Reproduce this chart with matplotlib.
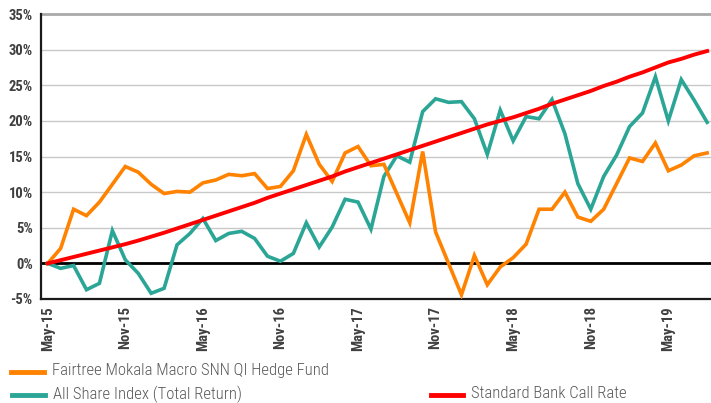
import matplotlib
matplotlib.use("Agg")
import matplotlib.pyplot as plt
from matplotlib.ticker import FuncFormatter, MultipleLocator
from matplotlib.lines import Line2D

plt.rcParams['font.family'] = ['Roboto Condensed', 'DejaVu Sans']

months = ["May-15", "Jun-15", "Jul-15", "Aug-15", "Sep-15", "Oct-15", "Nov-15", "Dec-15",
          "Jan-16", "Feb-16", "Mar-16", "Apr-16", "May-16", "Jun-16", "Jul-16", "Aug-16",
          "Sep-16", "Oct-16", "Nov-16", "Dec-16", "Jan-17", "Feb-17", "Mar-17", "Apr-17",
          "May-17", "Jun-17", "Jul-17", "Aug-17", "Sep-17", "Oct-17", "Nov-17", "Dec-17",
          "Jan-18", "Feb-18", "Mar-18", "Apr-18", "May-18", "Jun-18", "Jul-18", "Aug-18",
          "Sep-18", "Oct-18", "Nov-18", "Dec-18", "Jan-19", "Feb-19", "Mar-19", "Apr-19",
          "May-19", "Jun-19", "Jul-19", "Aug-19"]

fund = [0.0, 2.1, 7.6, 6.7, 8.6, 11.1, 13.6, 12.8, 11.1, 9.8, 10.1, 10.0,
        11.3, 11.7, 12.5, 12.3, 12.6, 10.5, 10.8, 13.0, 18.1, 13.9, 11.5, 15.5,
        16.4, 13.7, 13.9, 9.8, 5.7, 15.7, 4.4, 0.0, -4.4, 1.1, -3.0, -0.5,
        0.8, 2.7, 7.6, 7.6, 10.0, 6.5, 5.9, 7.6, 11.2, 14.8, 14.3, 16.9,
        13.0, 13.8, 15.1, 15.5]

alsi = [0.0, -0.7, -0.3, -3.7, -2.8, 4.6, 0.5, -1.4, -4.2, -3.5, 2.6, 4.2,
        6.3, 3.2, 4.2, 4.5, 3.5, 1.0, 0.3, 1.4, 5.7, 2.3, 5.1, 9.0,
        8.6, 4.8, 12.2, 15.1, 14.2, 21.3, 23.1, 22.6, 22.7, 20.3, 15.3, 21.5,
        17.2, 20.6, 20.3, 23.0, 18.2, 11.2, 7.6, 12.2, 15.2, 19.2, 21.1, 26.2,
        20.0, 25.8, 22.9, 19.8]

call_rate = [0.0, 0.45, 0.9, 1.35, 1.8, 2.25, 2.7, 3.2, 3.75, 4.3, 4.9, 5.5,
             6.1, 6.7, 7.3, 7.9, 8.5, 9.2, 9.8, 10.4, 11.0, 11.6, 12.2, 12.9,
             13.5, 14.1, 14.7, 15.3, 15.9, 16.5, 17.1, 17.7, 18.3, 18.9, 19.5, 20.0,
             20.5, 21.1, 21.7, 22.4, 23.0, 23.6, 24.2, 24.9, 25.5, 26.2, 26.8, 27.5,
             28.2, 28.7, 29.3, 29.8]

labels = ["Fairtree Mokala Macro SNN QI Hedge Fund", "All Share Index (Total Return)",
          "Standard Bank Call Rate"]
colors = ["#FF8200", "#2BA696", "#FF0000"]

fig = plt.figure(figsize=(7.11, 4.03), dpi=100)
ax = fig.add_axes([41/711, 1 - 299/403, 1 - 41/711, (299 - 14)/403])

x = list(range(len(months)))
ax.set_ylim(-5, 35)
ax.set_xlim(-0.52, 51.3)
ax.yaxis.set_major_locator(MultipleLocator(5))
for v in range(0, 35, 5):
    ax.axhline(v, color="#c8c8c8", lw=1.0, zorder=1)
ax.axhline(35, color="#a9a9a9", lw=2.0, zorder=1, clip_on=False)
ax.axhline(0, color="#000000", lw=2.0, zorder=2)

ax.plot(x, fund, color=colors[0], lw=2.6, zorder=4, solid_joinstyle='miter')
ax.plot(x, alsi, color=colors[1], lw=2.6, zorder=3, solid_joinstyle='miter')
ax.plot(x, call_rate, color=colors[2], lw=2.8, zorder=5)

for s in ["top", "right"]:
    ax.spines[s].set_visible(False)
ax.spines["left"].set_color("#1a1a1a")
ax.spines["left"].set_linewidth(1.6)
ax.spines["bottom"].set_color("#1a1a1a")
ax.spines["bottom"].set_linewidth(1.6)

ax.yaxis.set_major_formatter(FuncFormatter(lambda v, p: f"{int(round(v))}%"))
ax.tick_params(axis="y", length=0, pad=6, labelsize=10.5, labelcolor="#404040")
ax.set_xticks(x[::6])
ax.set_xticklabels(months[::6], rotation=90, fontsize=10.5, color="#404040", fontweight="bold")
ax.tick_params(axis="x", length=0, pad=5)
for t in ax.get_yticklabels():
    t.set_fontweight("bold")

# legend
def leg(x0, x1, y, color, text):
    fig.add_artist(Line2D([x0/711, x1/711], [1 - y/403, 1 - y/403], color=color, lw=3.5))
    fig.text((x1 + 8)/711, 1 - (y - 1)/403, text, fontsize=12, color="#595959",
             va="center", ha="left", fontweight="light")

leg(11, 44, 372, colors[0], labels[0])
leg(12, 45, 395, colors[1], labels[1])
leg(431, 463, 395, colors[2], labels[2])

fig.savefig("out.png", dpi=100)
